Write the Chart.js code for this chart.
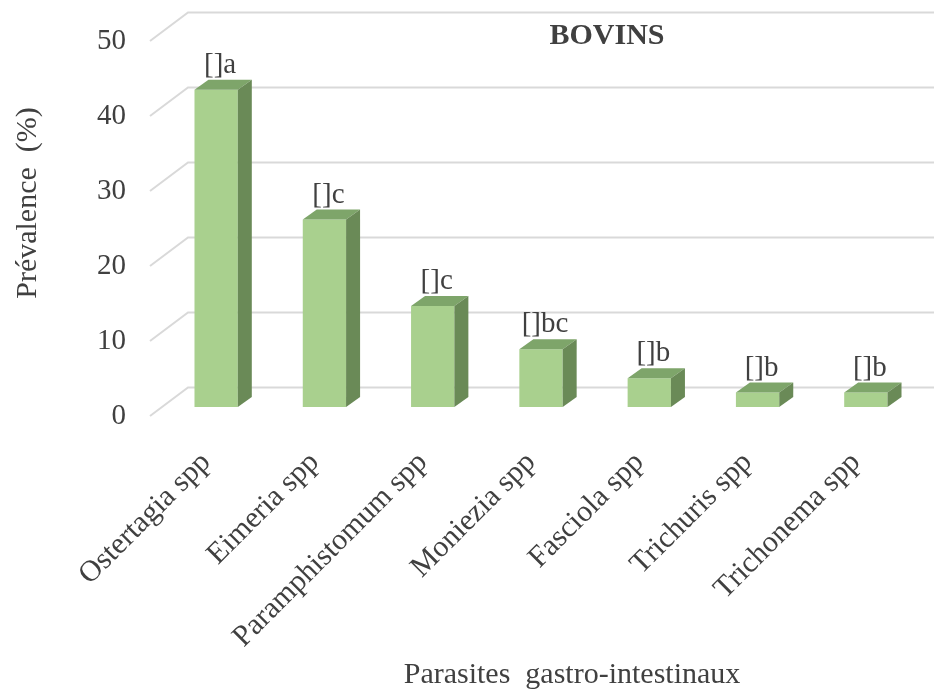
<!DOCTYPE html>
<html>
<head>
<meta charset="utf-8">
<script src="https://cdn.jsdelivr.net/npm/chart.js@4.4.1/dist/chart.umd.min.js"></script>
<style>
  html, body { margin: 0; padding: 0; background: #fff; }
  #wrap { width: 934px; height: 692px; }
</style>
</head>
<body>
<div id="wrap"><canvas id="chart" width="934" height="692"></canvas></div>
<script>
const categories = ['Ostertagia spp', 'Eimeria spp', 'Paramphistomum spp', 'Moniezia spp', 'Fasciola spp', 'Trichuris spp', 'Trichonema spp'];
const prevalence = [42.31, 25.0, 13.46, 7.69, 3.85, 1.92, 1.92];
const letters = ['a', 'c', 'c', 'bc', 'b', 'b', 'b'];
const yTicks = [0, 10, 20, 30, 40, 50];

const serif = "'Liberation Serif', 'Times New Roman', serif";
const textColor = '#404040';

// depth of the fake 3d box
const depthX = 14, depthY = -10;

const depthPlugin = {
    id: 'depth3d',
    beforeDatasetsDraw(chart) {
        const ctx = chart.ctx;
        const y = chart.scales.y;
        const left = chart.chartArea.left;
        ctx.save();
        ctx.strokeStyle = '#d9d9d9';
        ctx.lineWidth = 2;
        yTicks.forEach(v => {
            const p = y.getPixelForValue(v);
            ctx.beginPath();
            ctx.moveTo(left - 12, p + 9);
            ctx.lineTo(left + 26, p - 19.5);
            ctx.lineTo(chart.width, p - 19.5);
            ctx.stroke();
        });
        ctx.restore();
    },
    afterDatasetsDraw(chart) {
        const ctx = chart.ctx;
        const meta = chart.getDatasetMeta(0);
        ctx.save();
        meta.data.forEach((bar, i) => {
            const l = bar.x - bar.width / 2;
            const r = bar.x + bar.width / 2;
            const top = bar.y;
            const base = bar.base;
            // top face
            ctx.fillStyle = '#7ea56a';
            ctx.beginPath();
            ctx.moveTo(l, top);
            ctx.lineTo(l + depthX, top + depthY);
            ctx.lineTo(r + depthX, top + depthY);
            ctx.lineTo(r, top);
            ctx.closePath();
            ctx.fill();
            // side face
            ctx.fillStyle = '#6a8a57';
            ctx.beginPath();
            ctx.moveTo(r, top);
            ctx.lineTo(r + depthX, top + depthY);
            ctx.lineTo(r + depthX, base + depthY);
            ctx.lineTo(r, base);
            ctx.closePath();
            ctx.fill();
            // label
            ctx.fillStyle = textColor;
            ctx.font = '29px ' + serif;
            ctx.textAlign = 'center';
            ctx.textBaseline = 'alphabetic';
            ctx.fillText('[]' + letters[i], bar.x + 4, top - 17);
        });
        ctx.restore();
    },
    afterDraw(chart) {
        const ctx = chart.ctx;
        ctx.save();
        ctx.fillStyle = textColor;
        ctx.textAlign = 'center';
        ctx.textBaseline = 'middle';
        ctx.font = 'bold 30px ' + serif;
        ctx.fillText('BOVINS', 607, 36);
        ctx.font = '30px ' + serif;
        ctx.textBaseline = 'alphabetic';
        ctx.fillText('Parasites  gastro-intestinaux', 572, 683);
        ctx.translate(28, 203);
        ctx.rotate(-Math.PI / 2);
        ctx.textBaseline = 'middle';
        ctx.fillText('Prévalence  (%)', 0, 0);
        ctx.restore();
    }
};

new Chart(document.getElementById('chart'), {
    type: 'bar',
    data: {
        labels: categories,
        datasets: [{
            data: prevalence,
            backgroundColor: '#a9d08e',
            barPercentage: 0.4,
            categoryPercentage: 1
        }]
    },
    options: {
        responsive: false,
        animation: false,
        layout: { padding: { top: 32, right: 14, left: 0, bottom: 0 } },
        plugins: {
            legend: { display: false },
            tooltip: { enabled: false }
        },
        scales: {
            x: {
                grid: { display: false, drawTicks: false },
                border: { display: false },
                ticks: {
                    font: { family: serif, size: 30 },
                    color: textColor,
                    autoSkip: false,
                    maxRotation: 45,
                    minRotation: 45,
                    padding: 38,
                    labelOffset: -10
                },
                afterFit: s => {
                    s.height = 285;
                    s.paddingLeft = 0;
                    s.paddingRight = 0;
                }
            },
            y: {
                min: 0,
                max: 50,
                grid: { display: false, drawTicks: false },
                border: { display: false },
                ticks: {
                    stepSize: 10,
                    font: { family: serif, size: 29 },
                    color: textColor,
                    padding: 36,
                    labelOffset: 9
                },
                afterFit: s => {
                    s.width = 162;
                    s.paddingTop = 0;
                    s.paddingBottom = 0;
                }
            }
        }
    },
    plugins: [depthPlugin]
});
</script>
</body>
</html>
